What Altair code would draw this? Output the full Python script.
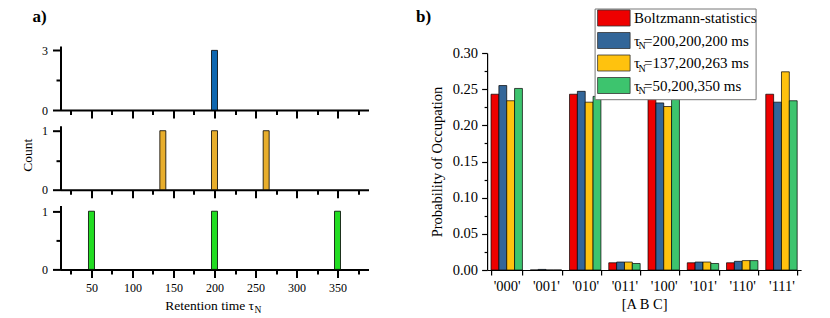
import altair as alt
import pandas as pd

FONT = "Liberation Serif"

# ---------------- panel a data ----------------
x_ticks_a = [25, 50, 75, 100, 125, 150, 175, 200, 225, 250, 275, 300, 325, 350, 375]
top_times = [200]
top_counts = [3]
mid_times = [137, 200, 263]
mid_counts = [1, 1, 1]
bot_times = [50, 200, 350]
bot_counts = [1, 1, 1]
colors_a = ["#0F67B0", "#E8AE2C", "#22DD22"]

# ---------------- panel b data ----------------
states = ["'000'", "'001'", "'010'", "'011'", "'100'", "'101'", "'110'", "'111'"]
series = ["Boltzmann-statistics", "tau 200,200,200", "tau 137,200,263", "tau 50,200,350"]
boltzmann = [0.243, 0.0, 0.243, 0.010, 0.243, 0.010, 0.010, 0.243]
tau_200 = [0.255, 0.0008, 0.247, 0.011, 0.231, 0.011, 0.012, 0.232]
tau_137 = [0.234, 0.0, 0.232, 0.011, 0.226, 0.011, 0.013, 0.274]
tau_50 = [0.251, 0.0, 0.240, 0.009, 0.242, 0.009, 0.013, 0.234]
colors_b = ["#EE0000", "#336699", "#FFC20E", "#3DC46E"]
legend_pre = ["", "τ", "τ", "τ"]
legend_sub = ["", "N", "N", "N"]
legend_rest = ["Boltzmann-statistics", "=200,200,200 ms", "=137,200,263 ms", "=50,200,350 ms"]
y_ticks_b = [round(i * 0.025, 3) for i in range(13)]

W_A, H_A = 308, 64
W_B, H_B = 314, 217
x_scale_a = alt.Scale(domain=[12.2, 387.8], nice=False, zero=False, padding=0)


def hist(times, counts, color, ymax, yticks, show_xlabels):
    df = pd.DataFrame({"t": times, "n": counts})
    xaxis = alt.Axis(
        values=x_ticks_a, labels=show_xlabels,
        labelExpr="datum.value % 50 === 0 ? datum.label : ''",
        tickSize=alt.condition("datum.value % 50 === 0", alt.value(8), alt.value(4.5)),
        tickWidth=2, domainWidth=2, domainColor="black", tickColor="black",
        labelFont=FONT, labelColor="black",
        labelFontSize=12, labelPadding=5, title=None, grid=False)
    yaxis = alt.Axis(
        values=yticks,
        labelExpr="datum.value % 1 === 0 ? format(datum.value, 'd') : ''",
        tickSize=alt.condition("datum.value % 1 === 0", alt.value(8), alt.value(4.5)),
        tickWidth=2, domainWidth=2, domainColor="black", tickColor="black",
        labelFont=FONT, labelColor="black",
        labelFontSize=12, labelPadding=5, title=None, grid=False)
    bars = alt.Chart(df).mark_bar(size=6, color=color, stroke="black",
                                  strokeWidth=0.8, orient="vertical").encode(
        x=alt.X("t:Q", scale=x_scale_a, axis=xaxis),
        y=alt.Y("n:Q", scale=alt.Scale(domain=[0, ymax], nice=False, padding=0), axis=yaxis),
        y2=alt.datum(0),
    )
    return bars


top = hist(top_times, top_counts, colors_a[0], 3.22, [0, 1.5, 3], False)
mid = hist(mid_times, mid_counts, colors_a[1], 1.085, [0, 0.5, 1], False)
bot = hist(bot_times, bot_counts, colors_a[2], 1.1, [0, 0.5, 1], True)

lab_a = alt.Chart(pd.DataFrame({"s": ["a)"]})).mark_text(
    font=FONT, fontSize=17, fontWeight="bold", align="left", baseline="top").encode(
    text="s:N", x=alt.value(-28), y=alt.value(-37))
top = alt.layer(top, lab_a).properties(width=W_A, height=H_A)

count_t = alt.Chart(pd.DataFrame({"s": ["Count"]})).mark_text(
    font=FONT, fontSize=13.5, angle=270, align="center", baseline="middle").encode(
    text="s:N", x=alt.value(-33), y=alt.value(29.5))
mid = alt.layer(mid, count_t).properties(width=W_A, height=H_A)

xt = alt.Chart(pd.DataFrame({"s": ["Retention time τ"]})).mark_text(
    font=FONT, fontSize=13.5, align="right", baseline="alphabetic").encode(
    text="s:N", x=alt.value(193.5), y=alt.value(H_A + 41))
xn = alt.Chart(pd.DataFrame({"s": ["N"]})).mark_text(
    font=FONT, fontSize=9.5, align="left", baseline="alphabetic").encode(
    text="s:N", x=alt.value(194), y=alt.value(H_A + 44))
bot = alt.layer(bot, xt, xn).properties(width=W_A, height=H_A)

left = alt.vconcat(top, mid, bot, spacing=15.7, bounds="flush")

# ---------------- panel b ----------------
rows = []
for si, vals in zip(series, [boltzmann, tau_200, tau_137, tau_50]):
    for st, v in zip(states, vals):
        rows.append({"state": st, "series": si, "p": v})
df_b = pd.DataFrame(rows)

bars_b = alt.Chart(df_b).mark_bar(stroke="black", strokeWidth=0.7).encode(
    x=alt.X("state:N", sort=states,
            scale=alt.Scale(paddingInner=0.2, paddingOuter=0.1),
            axis=alt.Axis(title="[A B C]", labelAngle=0, tickBand="extent",
                          tickSize=5, tickWidth=1.2, domainWidth=1.2,
                          domainColor="black", tickColor="black",
                          labelFont=FONT, titleFont=FONT, labelColor="black",
                          titleColor="black",
                          labelFontSize=14.5, labelPadding=4,
                          titleFontSize=14.5, titleFontWeight="normal",
                          titlePadding=5)),
    xOffset=alt.XOffset("series:N", sort=series),
    y=alt.Y("p:Q", scale=alt.Scale(domain=[0, 0.30], nice=False),
            axis=alt.Axis(values=y_ticks_b,
                          labelExpr="round(datum.value*1000) % 50 === 0 ? format(datum.value, '.2f') : ''",
                          tickSize=alt.condition("round(datum.value*1000) % 50 === 0", alt.value(5.5), alt.value(3)),
                          tickWidth=1.2, domainWidth=1.2, domainColor="black",
                          tickColor="black", labelFont=FONT, titleFont=FONT,
                          labelColor="black", titleColor="black",
                          labelFontSize=14.5, labelPadding=4,
                          title="Probability of Occupation", titleFontSize=14.5,
                          titleFontWeight="normal", titlePadding=8, grid=False)),
    color=alt.Color("series:N", sort=series,
                    scale=alt.Scale(domain=series, range=colors_b), legend=None),
)

legend_box = alt.Chart(pd.DataFrame({"s": [""]})).mark_rect(
    fill="white", stroke="#777777", strokeWidth=1).encode(
    x=alt.value(108), x2=alt.value(269), y=alt.value(-44), y2=alt.value(46.7))

df_leg = pd.DataFrame({"i": [0, 1, 2, 3], "color": colors_b, "pre": legend_pre,
                       "sub": legend_sub, "rest": legend_rest})
leg_base = alt.Chart(df_leg).transform_calculate(
    py="-35 + datum.i * 22.5",
    y1="datum.py - 8", y2="datum.py + 8",
    ty="datum.py + 5", sy="datum.py + 8.5",
    tx="datum.i == 0 ? 147 : 157")
swatch = leg_base.mark_rect(stroke="#333333", strokeWidth=0.8).encode(
    x=alt.value(110.5), x2=alt.value(143),
    y=alt.Y("y1:Q", scale=None, axis=None), y2="y2:Q",
    color=alt.Color("color:N", scale=None, legend=None))
leg_pre = leg_base.mark_text(font=FONT, fontSize=15, align="left", baseline="alphabetic").encode(
    x=alt.value(147), y=alt.Y("ty:Q", scale=None, axis=None), text="pre:N")
leg_sub = leg_base.mark_text(font=FONT, fontSize=10, align="left", baseline="alphabetic").encode(
    x=alt.value(151.5), y=alt.Y("sy:Q", scale=None, axis=None), text="sub:N")
leg_rest = leg_base.mark_text(font=FONT, fontSize=15, align="left", baseline="alphabetic").encode(
    x=alt.X("tx:Q", scale=None, axis=None), y=alt.Y("ty:Q", scale=None, axis=None),
    text="rest:N")

lab_b = alt.Chart(pd.DataFrame({"s": ["b)"]})).mark_text(
    font=FONT, fontSize=17, fontWeight="bold", align="left", baseline="top").encode(
    text="s:N", x=alt.value(-71), y=alt.value(-44))

right = alt.layer(bars_b, legend_box, swatch, leg_pre, leg_sub, leg_rest, lab_b).resolve_scale(
    x="independent", y="independent", color="independent").properties(width=W_B, height=H_B)

spacer = alt.Chart(pd.DataFrame({"s": [0]})).mark_point(opacity=0).encode(
    x=alt.value(0), y=alt.value(0)).properties(width=W_B, height=1)
right_col = alt.vconcat(spacer, right, spacing=6, bounds="flush")

# nested concat groups count as zero width under flush bounds, so the
# spacing spans the whole left panel width plus the gap between panels
chart = alt.hconcat(left, right_col, spacing=426.6, bounds="flush").properties(
    padding={"left": 12.5, "top": 0, "right": 5, "bottom": 0}
).configure_view(stroke=None).configure_axis(
    labelFont=FONT, titleFont=FONT, labelColor="black", titleColor="black"
).configure_text(font=FONT, color="black")

chart.save("out.html", embed_options={"renderer": "svg", "actions": False})
